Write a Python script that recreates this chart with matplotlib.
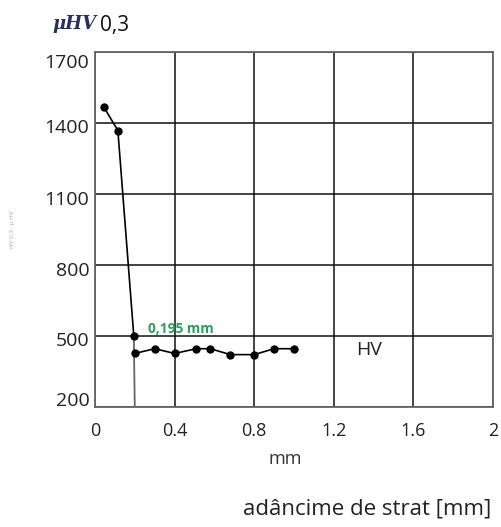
import numpy as np
import matplotlib.pyplot as plt
from matplotlib.transforms import ScaledTranslation

plt.rcParams['font.family'] = ['Open Sans', 'DejaVu Sans']

# surface curve (hardness drop)
depth_top = [0.044, 0.115, 0.195]
hv_top = [1467, 1367, 500]
drop_x = [0.195, 0.2]
drop_y = [500, 200]

# core hardness
depth_core = [0.2, 0.3, 0.4, 0.51, 0.58, 0.68, 0.8, 0.9, 1.0]
hv_core = [425, 445, 425, 445, 445, 420, 420, 445, 445]

xticks = [0, 0.4, 0.8, 1.2, 1.6, 2]
xtick_labels = ['0', '0.4', '0.8', '1.2', '1.6', '2']
yticks = [200, 500, 800, 1100, 1400, 1700]
# label shifts in px (down positive), labels sit slightly off their gridlines
y_shift = [-8, 3, 4, 4, 3, 9]

fig = plt.figure(figsize=(5.02, 5.27), dpi=100)
ax = fig.add_axes([0.1892, 0.2283, 0.7928, 0.6736])

ax.plot(drop_x, drop_y, color='#666666', lw=1.3, zorder=3)
ax.plot(depth_top, hv_top, color='black', lw=1.2, marker='o', ms=5, zorder=4)
ax.plot(depth_core, hv_core, color='black', lw=1.2, marker='o', ms=5, zorder=4)

ax.set_xlim(0, 2)
ax.set_ylim(200, 1700)
ax.set_xticks(xticks)
ax.set_xticklabels(xtick_labels)
ax.set_yticks(yticks)
ax.grid(True, color='#111111', lw=1.1)
ax.tick_params(length=0, colors='#222222')
ax.tick_params(axis='x', labelsize=13, pad=11)
ax.tick_params(axis='y', labelsize=14, pad=4)
for s in ax.spines.values():
    s.set_color('#666666')
    s.set_linewidth(1.3)

for lab, dy in zip(ax.get_yticklabels(), y_shift):
    lab.set_transform(lab.get_transform() + ScaledTranslation(0, -dy / 100, fig.dpi_scale_trans))

ax.text(0.267, 529, '0,195 mm', color='#2e9e5e', fontsize=9.8, fontweight='bold',
        va='center', ha='left')
ax.text(1.376, 438, 'HV', fontsize=14, ha='center', va='center', color='#222222')

fig.text(0.568, 0.129, 'mm', fontsize=13, ha='center', va='center', color='#333333')
fig.text(0.731, 0.034, 'adâncime de strat [mm]', fontsize=16, ha='center', va='center',
         color='#222222')

fig.text(0.104, 0.954, 'μHV', fontsize=13, color='#2b2f5a', fontweight='bold',
         style='italic', ha='left', va='center', family='DejaVu Serif')
fig.text(0.199, 0.951, '0,3', fontsize=15, ha='left', va='center', color='#111111')
fig.text(0.025, 0.565, 'HV 0,3 · µ HV', fontsize=4.5, rotation=90, color='#aaaaaa',
         ha='center', va='center')

fig.savefig('out.png', dpi=100)
